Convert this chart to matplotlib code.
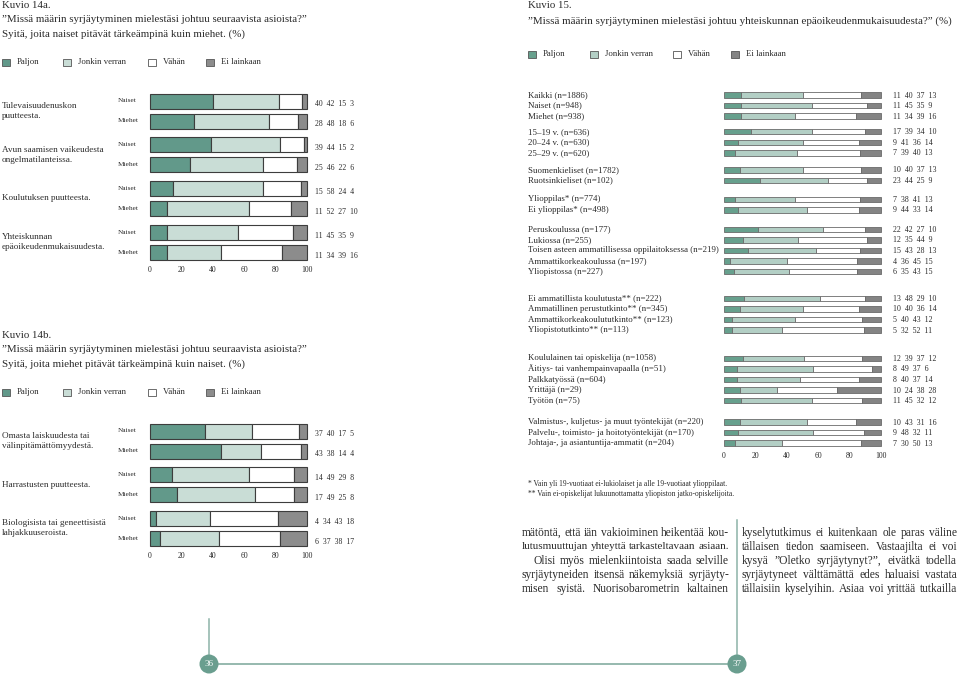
import numpy as np
import matplotlib.pyplot as plt
from matplotlib.patches import Rectangle, Circle

plt.rcParams['font.family'] = ['Liberation Serif', 'DejaVu Serif']

W, H = 959, 676

# vastausvaihtoehdot
vastaukset = ['Paljon', 'Jonkin verran', 'Vähän', 'Ei lainkaan']

# Kuvio 14a
k14a_syyt = ['Tulevaisuudenuskon\npuutteesta.',
             'Avun saamisen vaikeudesta\nongelmatilanteissa.',
             'Koulutuksen puutteesta.',
             'Yhteiskunnan\nepäoikeudenmukaisuudesta.']
k14a_naiset = [[40, 42, 15, 3], [39, 44, 15, 2], [15, 58, 24, 4], [11, 45, 35, 9]]
k14a_miehet = [[28, 48, 18, 6], [25, 46, 22, 6], [11, 52, 27, 10], [11, 34, 39, 16]]

# Kuvio 14b (painetut luvut)
k14b_syyt = ['Omasta laiskuudesta tai\nvälinpitämättömyydestä.',
             'Harrastusten puutteesta.',
             'Biologisista tai geneettisistä\nlahjakkuuseroista.']
k14b_naiset = [[37, 40, 17, 5], [14, 49, 29, 8], [4, 34, 43, 18]]
k14b_miehet = [[43, 38, 14, 4], [17, 49, 25, 8], [6, 37, 38, 17]]
# ensimmaisen ryhman palkit eivat vastaa painettuja lukuja -> luettu palkeista
k14b_palkki_naiset = [[35, 30, 30, 5], [14, 49, 29, 8], [4, 34, 43, 18]]
k14b_palkki_miehet = [[45, 26, 25, 4], [17, 49, 25, 8], [6, 37, 38, 17]]

# Kuvio 15
k15_ryhmat = [
    ['Kaikki (n=1886)', 'Naiset (n=948)', 'Miehet (n=938)'],
    ['15–19 v. (n=636)', '20–24 v. (n=630)', '25–29 v. (n=620)'],
    ['Suomenkieliset (n=1782)', 'Ruotsinkieliset (n=102)'],
    ['Ylioppilas* (n=774)', 'Ei ylioppilas* (n=498)'],
    ['Peruskoulussa (n=177)', 'Lukiossa (n=255)',
     'Toisen asteen ammatillisessa oppilaitoksessa (n=219)',
     'Ammattikorkeakoulussa (n=197)', 'Yliopistossa (n=227)'],
    ['Ei ammatillista koulutusta** (n=222)', 'Ammatillinen perustutkinto** (n=345)',
     'Ammattikorkeakoulututkinto** (n=123)', 'Yliopistotutkinto** (n=113)'],
    ['Koululainen tai opiskelija (n=1058)', 'Äitiys- tai vanhempainvapaalla (n=51)',
     'Palkkatyössä (n=604)', 'Yrittäjä (n=29)', 'Työtön (n=75)'],
    ['Valmistus-, kuljetus- ja muut työntekijät (n=220)',
     'Palvelu-, toimisto- ja hoitotyöntekijät (n=170)',
     'Johtaja-, ja asiantuntija-ammatit (n=204)'],
]
k15_arvot = [
    [[11, 40, 37, 13], [11, 45, 35, 9], [11, 34, 39, 16]],
    [[17, 39, 34, 10], [9, 41, 36, 14], [7, 39, 40, 13]],
    [[10, 40, 37, 13], [23, 44, 25, 9]],
    [[7, 38, 41, 13], [9, 44, 33, 14]],
    [[22, 42, 27, 10], [12, 35, 44, 9], [15, 43, 28, 13], [4, 36, 45, 15], [6, 35, 43, 15]],
    [[13, 48, 29, 10], [10, 40, 36, 14], [5, 40, 43, 12], [5, 32, 52, 11]],
    [[12, 39, 37, 12], [8, 49, 37, 6], [8, 40, 37, 14], [10, 24, 38, 28], [11, 45, 32, 12]],
    [[10, 43, 31, 16], [9, 48, 32, 11], [7, 30, 50, 13]],
]
k15_alaviitteet = ['* Vain yli 19-vuotiaat ei-lukiolaiset ja alle 19-vuotiaat ylioppilaat.',
                   '** Vain ei-opiskelijat lukuunottamatta yliopiston jatko-opiskelijoita.']

teksti_vasen = ['mätöntä, että iän vakioiminen heikentää kou-',
                'lutusmuuttujan yhteyttä tarkasteltavaan asiaan.',
                'Olisi myös mielenkiintoista saada selville',
                'syrjäytyneiden itsensä näkemyksiä syrjäyty-',
                'misen syistä. Nuorisobarometrin kaltainen']
teksti_oikea = ['kyselytutkimus ei kuitenkaan ole paras väline',
                'tällaisen tiedon saamiseen. Vastaajilta ei voi',
                'kysyä ”Oletko syrjäytynyt?”, eivätkä todella',
                'syrjäytyneet välttämättä edes haluaisi vastata',
                'tällaisiin kyselyihin. Asiaa voi yrittää tutkailla']

# värit
col14 = ['#62998a', '#c9ddd6', '#ffffff', '#8c8c8c']
col15 = ['#67a08d', '#b3cfc5', '#ffffff', '#848484']
viiva = '#8db3a8'
txtc = '#2a2a2a'

fig = plt.figure(figsize=(W / 100, H / 100), dpi=100)
page = fig.add_axes([0, 0, 1, 1])
page.set_xlim(0, W)
page.set_ylim(H, 0)
page.axis('off')


def px_axes(x0, y0, x1, y1):
    return fig.add_axes([x0 / W, 1 - y1 / H, (x1 - x0) / W, (y1 - y0) / H])


def stack(ax, ypos, vals, h, cols, edge, lw):
    v = np.array(vals, dtype=float)
    v = v / v.sum(axis=1, keepdims=True) * 100
    left = np.zeros(len(v))
    for j in range(4):
        ax.barh(ypos, v[:, j], left=left, height=h, color=cols[j],
                edgecolor=edge, linewidth=lw, clip_on=False)
        left += v[:, j]


def setup(ax, ybot, ytop, fs):
    ax.set_xlim(0, 100)
    ax.set_ylim(ybot, ytop)
    for s in ax.spines.values():
        s.set_visible(False)
    ax.set_yticks([])
    ax.set_xticks([0, 20, 40, 60, 80, 100])
    ax.tick_params(axis='x', length=0, labelsize=fs, pad=2.5, labelcolor=txtc)
    ax.patch.set_alpha(0)


def legend(x_list, y, cols):
    for xs, lab, c in zip(x_list, vastaukset, cols):
        page.add_patch(Rectangle((xs, y - 3.5), 7.5, 7.5, facecolor=c,
                                 edgecolor='#555555', linewidth=0.6))
        page.text(xs + 15, y, lab, fontsize=6.3, va='center', color=txtc)


def kuvio14(top_y, syyt, naiset, miehet, title, leg_y, palkit=None):
    if palkit is None:
        palkit = (naiset, miehet)
    for i, t in enumerate(title):
        page.text(2, top_y + i * 14, t, fontsize=7.8, va='center', color=txtc)
    legend([2, 63, 148, 206], leg_y, col14)
    y0 = leg_y + 39
    pitch, sub = 43.7, 20
    yn = np.array([y0 + g * pitch for g in range(len(syyt))])
    ym = yn + sub
    ax = px_axes(150, y0 - 10, 307, ym[-1] + 10)
    setup(ax, ym[-1] + 10, y0 - 10, 5.6)
    stack(ax, yn, palkit[0], 15, col14, '#3d3d3d', 0.8)
    stack(ax, ym, palkit[1], 15, col14, '#3d3d3d', 0.8)
    for g, s in enumerate(syyt):
        page.text(2, (yn[g] + ym[g]) / 2, s, fontsize=6.6, va='center',
                  linespacing=1.35, color=txtc)
        page.text(118, yn[g], 'Naiset', fontsize=5.2, va='center', color=txtc)
        page.text(118, ym[g], 'Miehet', fontsize=5.2, va='center', color=txtc)
        page.text(315, yn[g] + 3.5, '  '.join(str(v) for v in naiset[g]),
                  fontsize=5.6, va='center', color=txtc)
        page.text(315, ym[g] + 3.5, '  '.join(str(v) for v in miehet[g]),
                  fontsize=5.6, va='center', color=txtc)


kuvio14(6, k14a_syyt, k14a_naiset, k14a_miehet,
        ['Kuvio 14a.',
         '”Missä määrin syrjäytyminen mielestäsi johtuu seuraavista asioista?”',
         'Syitä, joita naiset pitävät tärkeämpinä kuin miehet. (%)'], 62)
kuvio14(336, k14b_syyt, k14b_naiset, k14b_miehet,
        ['Kuvio 14b.',
         '”Missä määrin syrjäytyminen mielestäsi johtuu seuraavista asioista?”',
         'Syitä, joita miehet pitävät tärkeämpinä kuin naiset. (%)'], 392,
        palkit=(k14b_palkki_naiset, k14b_palkki_miehet))

# Kuvio 15
page.text(528, 6, 'Kuvio 15.', fontsize=7.8, va='center', color=txtc)
page.text(528, 21, '”Missä määrin syrjäytyminen mielestäsi johtuu yhteiskunnan '
          'epäoikeudenmukaisuudesta?” (%)', fontsize=7.95, va='center', color=txtc)
legend([528, 590, 673, 731], 54, col15)

pitch15 = 10.6
gaps15 = [15.5, 17.1, 18.7, 19.4, 26.6, 28.2, 21.3]
ypos, labs, vals = [], [], []
y = 95.0
for g, (ryhma, arvot) in enumerate(zip(k15_ryhmat, k15_arvot)):
    if g > 0:
        y += gaps15[g - 1] - pitch15
    for lab, v in zip(ryhma, arvot):
        ypos.append(y)
        labs.append(lab)
        vals.append(v)
        y += pitch15
ypos = np.array(ypos)

ax15 = px_axes(724, ypos[0] - 6, 881, ypos[-1] + 5)
setup(ax15, ypos[-1] + 5, ypos[0] - 6, 5.6)
stack(ax15, ypos, vals, 5.5, col15, '#6a6a6a', 0.6)
for yy, lab, v in zip(ypos, labs, vals):
    page.text(528, yy, lab, fontsize=6.4, va='center', color=txtc)
    page.text(893, yy + 0.5, '  '.join(str(x) for x in v), fontsize=5.7,
              va='center', color=txtc)
for i, t in enumerate(k15_alaviitteet):
    page.text(528, 484 + i * 10, t, fontsize=5.45, va='center', color=txtc)

# leipäteksti, tasattu molempiin reunoihin
renderer = fig.canvas.get_renderer()


def tasaa(rivi, x0, x1, y, fs=8.3, minvali=2.6):
    sanat = rivi.split()
    tt = [page.text(0, y, s, fontsize=fs, va='center', color=txtc) for s in sanat]
    lev = [t.get_window_extent(renderer).width for t in tt]
    tarve = sum(lev) + minvali * (len(sanat) - 1)
    if tarve > x1 - x0:
        k = (x1 - x0 - minvali * (len(sanat) - 1)) / sum(lev)
        for t in tt:
            t.set_fontsize(fs * k)
        lev = [t.get_window_extent(renderer).width for t in tt]
    vali = (x1 - x0 - sum(lev)) / (len(sanat) - 1)
    x = x0
    for t, w in zip(tt, lev):
        t.set_x(x)
        x += w + vali


for i, r in enumerate(teksti_vasen):
    tasaa(r, 533 if i == 2 else 522, 729, 533 + i * 13.9)
for i, r in enumerate(teksti_oikea):
    tasaa(r, 742, 957, 533 + i * 13.9)

# sivunumerot ja viivat
page.plot([209, 209], [619, 663], color=viiva, lw=1.1)
page.plot([209, 737], [664, 664], color=viiva, lw=1.3)
page.plot([737, 737], [520, 664], color=viiva, lw=1.1)
for cx, nro in [(209, '36'), (737, '37')]:
    page.add_patch(Circle((cx, 664), 9.5, facecolor='#6a9e8f', edgecolor='none', zorder=3))
    page.text(cx, 664, nro, fontsize=6.5, color='white', ha='center', va='center', zorder=4)

plt.savefig('out.png', dpi=100)
